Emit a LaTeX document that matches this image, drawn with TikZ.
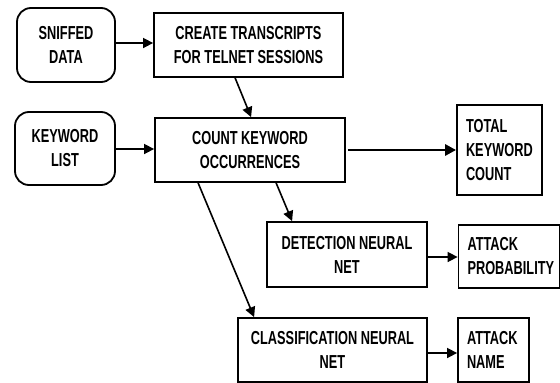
\documentclass[tikz,border=0pt]{standalone}
\usepackage{fontspec}
\setmainfont{Liberation Sans}[FakeStretch=0.68]
\usetikzlibrary{arrows.meta}
\begin{document}
\begin{tikzpicture}[x=1pt,y=-1pt,
  every node/.style={font=\fontsize{18.8}{24}\selectfont\bfseries},
  sqbox/.style={draw,line width=1.8pt,align=center,inner sep=0pt},
  rndbox/.style={sqbox,rounded corners=14pt},
  lbox/.style={draw,line width=1.8pt,align=left,inner xsep=9pt,inner ysep=0pt},
  arr/.style={line width=1.6pt,-{Triangle[length=10pt,width=10pt]}},
  thickarr/.style={line width=2.8pt,-{Triangle[length=11pt,width=11pt]}}]
\useasboundingbox (0,0) rectangle (560,383);
\node[rndbox,minimum width=98pt,minimum height=74pt] (sniff) at (66,45) {SNIFFED\\DATA};
\node[sqbox,minimum width=189pt,minimum height=64pt] (create) at (248.5,45) {CREATE TRANSCRIPTS\\FOR TELNET SESSIONS};
\node[rndbox,minimum width=100pt,minimum height=73pt] (kw) at (65,148.5) {KEYWORD\\LIST};
\node[sqbox,minimum width=190pt,minimum height=64pt] (count) at (250,150) {COUNT KEYWORD\\OCCURRENCES};
\node[lbox,text width=67pt,minimum height=90pt] (total) at (499.5,150) {TOTAL\\KEYWORD\\COUNT};
\node[sqbox,minimum width=160pt,minimum height=65pt] (det) at (347,254.5) {DETECTION NEURAL\\NET};
\node[lbox,text width=83pt,minimum height=63pt] (prob) at (509,256.5) {ATTACK\\PROBABILITY};
\node[sqbox,minimum width=189pt,minimum height=64pt] (cls) at (332.5,350) {CLASSIFICATION NEURAL\\NET};
\node[lbox,text width=53pt,minimum height=64pt] (name) at (493.5,350) {ATTACK\\NAME};
\draw[arr] (sniff.east |- 0,43) -- (create.west |- 0,43);
\draw[arr] (kw.east |- 0,149) -- (count.west |- 0,149);
\draw[arr] ([xshift=82pt]create.south west) -- ([xshift=97pt]count.north west);
\draw[thickarr] ([xshift=2pt]count.east) -- (total.west);
\draw[arr] ([xshift=122pt]count.south west) -- ([xshift=26pt]det.north west);
\draw[arr] ([xshift=44pt]count.south west) -- ([xshift=17pt]cls.north west);
\draw[arr] (det.east |- 0,257) -- (prob.west |- 0,257);
\draw[arr] (cls.east |- 0,353) -- (name.west |- 0,353);
\end{tikzpicture}
\end{document}
